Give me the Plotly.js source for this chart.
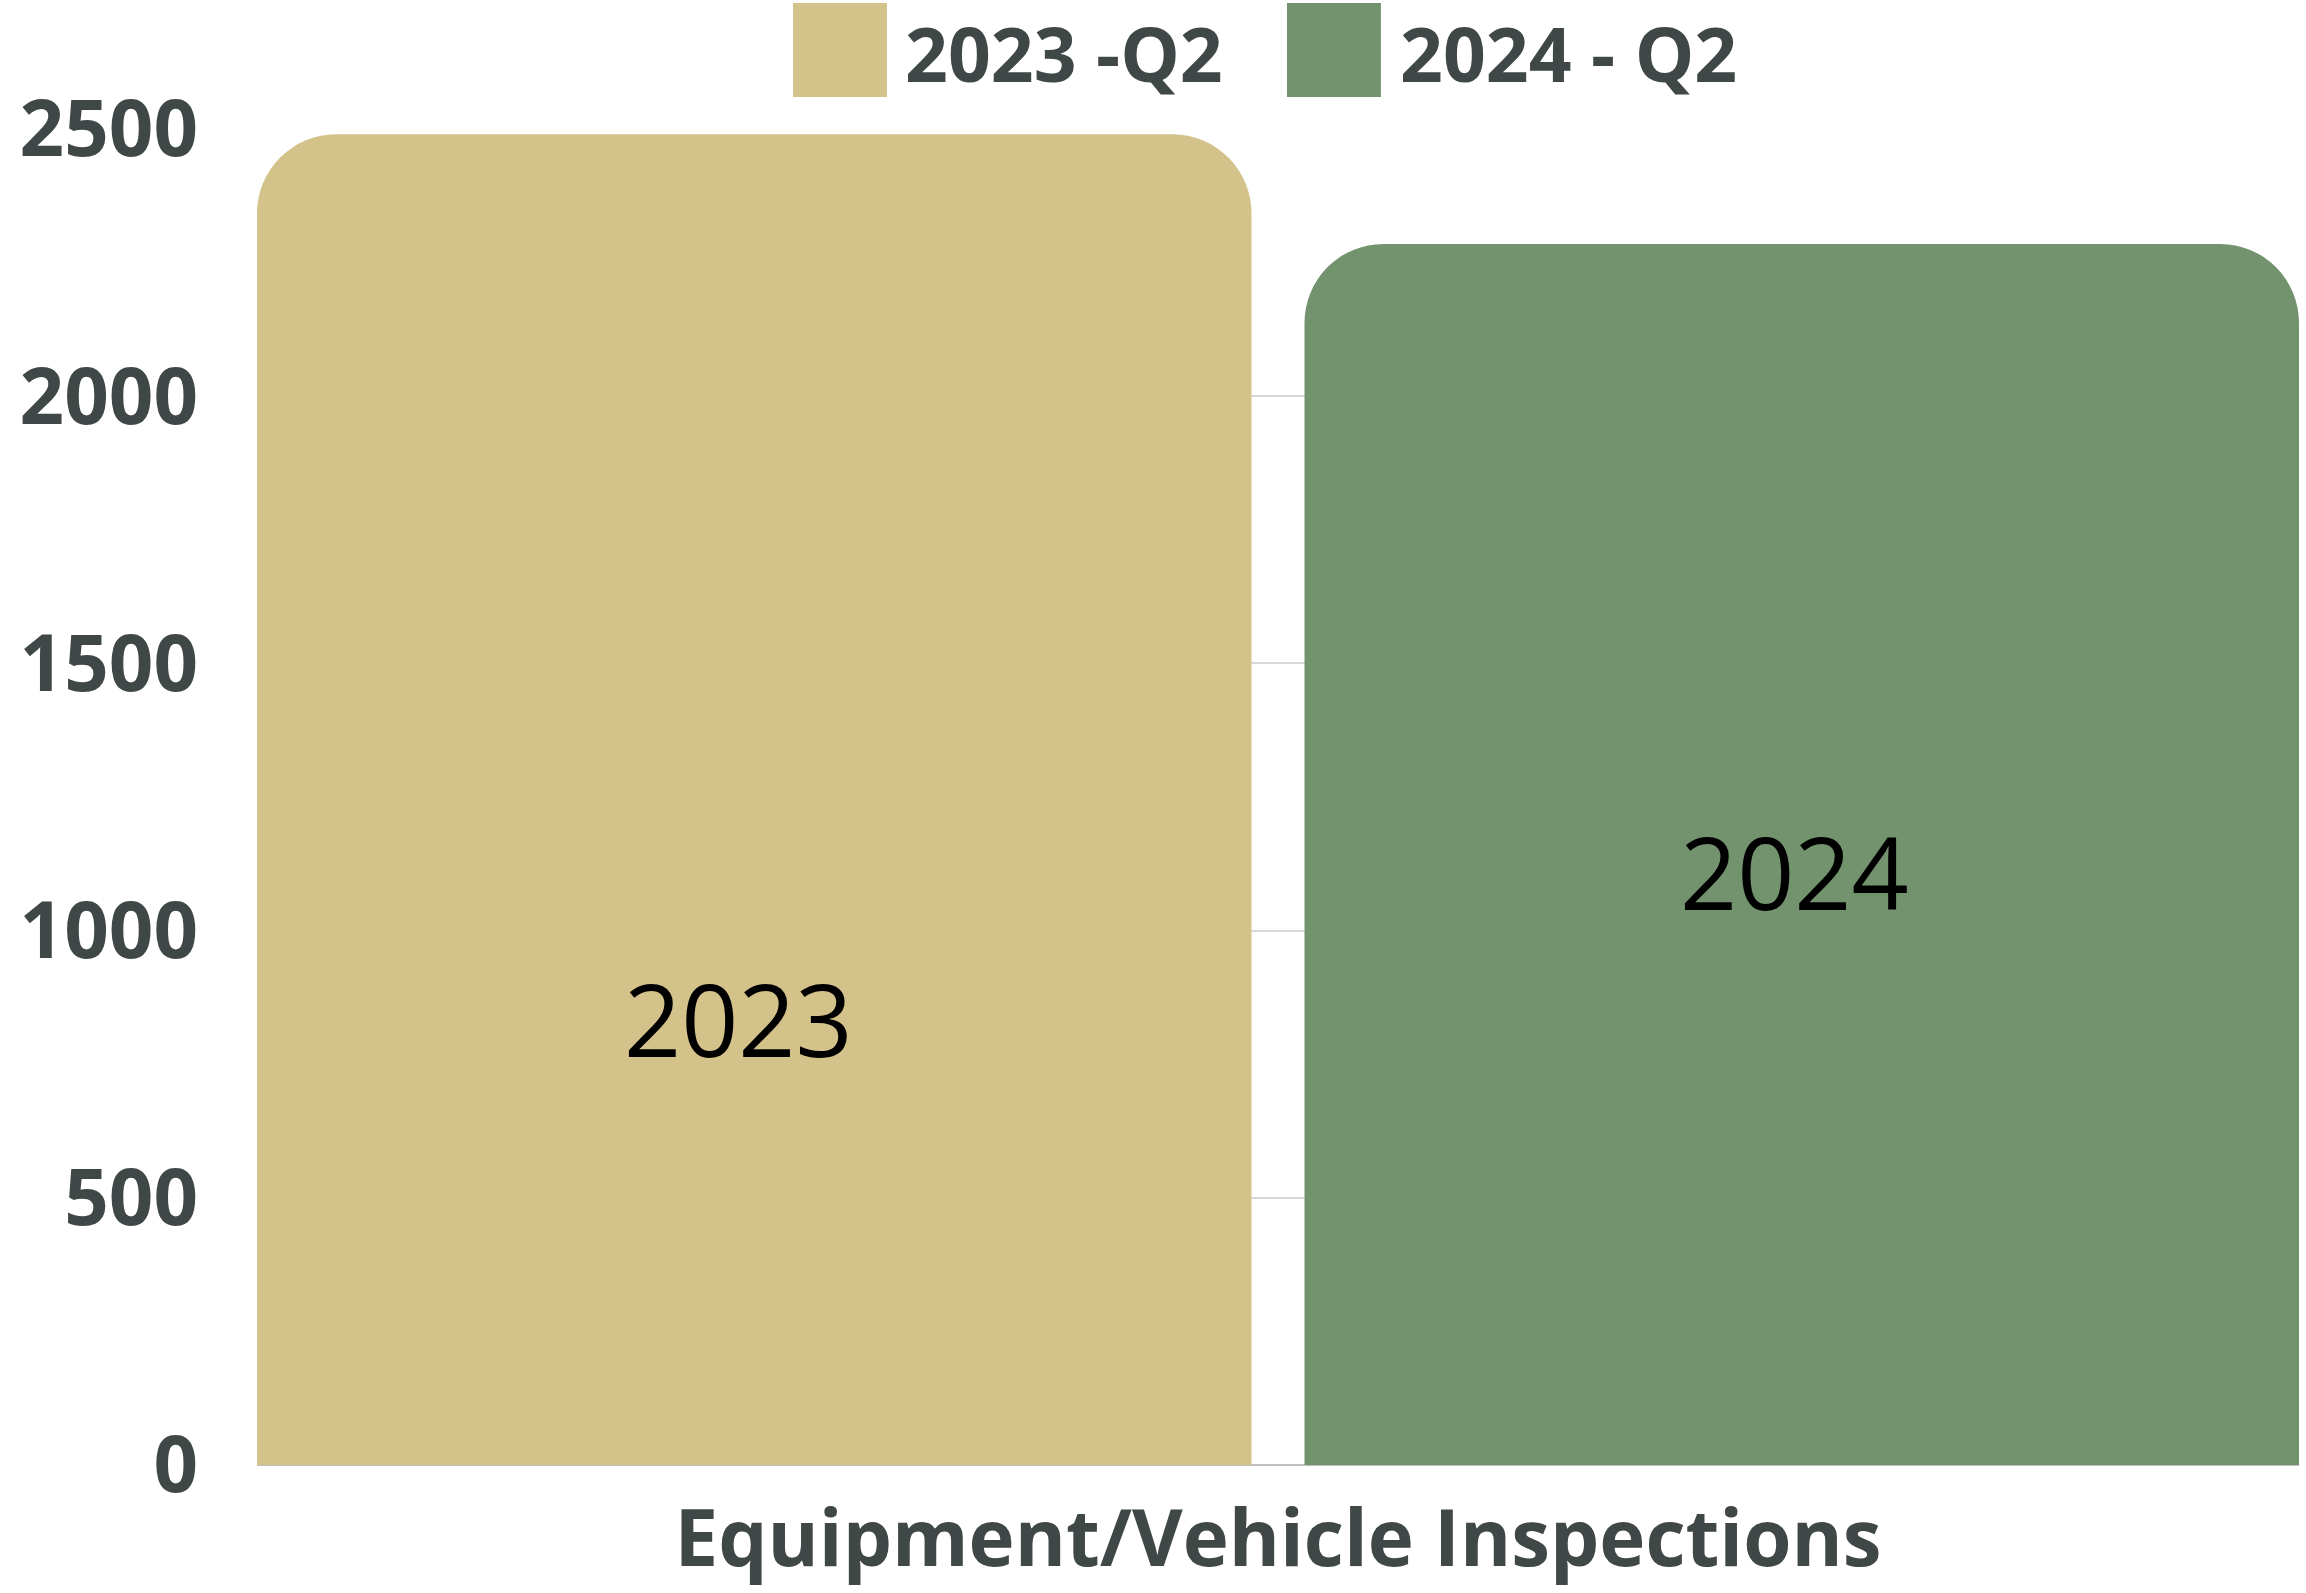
<!DOCTYPE html>
<html>
<head>
<meta charset="utf-8">
<script src="https://cdn.plot.ly/plotly-3.0.1.min.js"></script>
<style>html,body{margin:0;padding:0;background:#fff;}#chart{width:2306px;height:1593px;}</style>
</head>
<body>
<div id="chart"></div>
<script>
// ---- data ----
const categories = ["Equipment/Vehicle Inspections"];
const seriesNames = ["2023 -Q2", "2024 - Q2"];
const values2023 = [2490];
const values2024 = [2285];
const barLabels = ["2023", "2024"];
const yTicks = [0, 500, 1000, 1500, 2000, 2500];

const colors = ["#D4C28B", "#73936E"];
const textDark = "#404747";
const fontFam = "'Open Sans', 'Noto Sans', sans-serif";

const traces = [
  {type: "bar", name: seriesNames[0], x: categories, y: values2023,
   marker: {color: colors[0], cornerradius: 79}, hoverinfo: "y"},
  {type: "bar", name: seriesNames[1], x: categories, y: values2024,
   marker: {color: colors[1], cornerradius: 79}, hoverinfo: "y"}
];

const g = 0.0506;
const legendShapes = [];
const annotations = [];
const legendPos = [[0.2625, 0.3085, 0.3163], [0.5044, 0.5504, 0.5587]];
seriesNames.forEach((n, i) => {
  const p = legendPos[i];
  legendShapes.push({type: "rect", xref: "paper", yref: "paper",
    x0: p[0], x1: p[1], y0: 1.0240, y1: 1.0943,
    fillcolor: colors[i], line: {width: 0}, layer: "above"});
  annotations.push({xref: "paper", yref: "paper", x: p[2], y: 1.0569,
    xanchor: "left", yanchor: "middle", showarrow: false, text: n,
    font: {family: fontFam, size: 75, weight: 700, color: textDark}});
});
const labelPos = [[0.2356, 836], [0.7527, 1112]];
barLabels.forEach((t, i) => {
  annotations.push({xref: "paper", yref: "y", x: labelPos[i][0], y: labelPos[i][1],
    xanchor: "center", yanchor: "middle", showarrow: false, text: t,
    font: {family: fontFam, size: 100, color: "#000000"}});
});

const layout = {
  width: 2306, height: 1593,
  paper_bgcolor: "#ffffff", plot_bgcolor: "#ffffff",
  margin: {l: 257, r: 7, t: 129, b: 128, pad: 0},
  showlegend: false,
  barmode: "group", bargap: 0, bargroupgap: g,
  xaxis: {type: "category", range: [-0.5 + 0.25 * g, 0.5 - 0.25 * g],
    showgrid: false, zeroline: false, showline: false, ticks: "",
    automargin: false, fixedrange: true,
    tickfont: {family: fontFam, size: 78, weight: 700, color: textDark},
    ticklabelstandoff: 22},
  yaxis: {range: [0, 2500], tickvals: yTicks, ticktext: yTicks.map(String),
    showgrid: true, gridcolor: "#d9d9d9", gridwidth: 2,
    zeroline: true, zerolinecolor: "#bfbfbf", zerolinewidth: 2,
    showline: false, ticks: "", automargin: false, fixedrange: true,
    tickfont: {family: fontFam, size: 78, weight: 700, color: textDark},
    ticklabelstandoff: 58},
  shapes: legendShapes,
  annotations: annotations
};

Plotly.newPlot("chart", traces, layout, {displayModeBar: false, staticPlot: true});
</script>
</body>
</html>
